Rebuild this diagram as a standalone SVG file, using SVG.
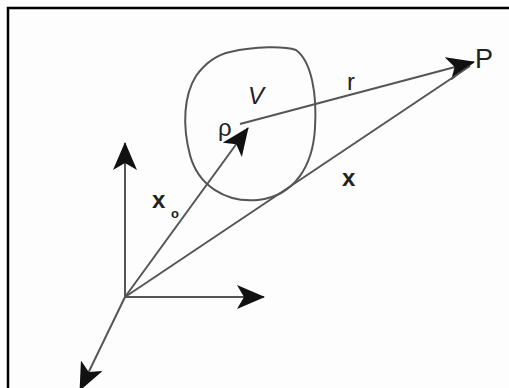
<svg xmlns="http://www.w3.org/2000/svg" width="509" height="388" viewBox="0 0 509 388">
<style>
.ln{stroke:#555;stroke-width:2;fill:none}
.lbl{font-family:"Liberation Sans",Arial,sans-serif;fill:#222}
</style>
<defs>
<marker id="ahL" markerWidth="28" markerHeight="24" refX="27" refY="12" orient="auto" markerUnits="userSpaceOnUse" viewBox="0 0 28 24">
<path d="M0,0 L28,12 L0,24 L7,12 Z" fill="#111"/>
</marker>
</defs>
<rect x="0" y="0" width="509" height="388" fill="#fdfdfd"/>
<rect x="8" y="8" width="520" height="400" fill="none" stroke="#000" stroke-width="2.5"/>
<g id="volume">
<path d="M230,52 C255,46 285,46 296,50 C312,62 317,95 315,128 C313,165 295,196 258,200 C225,203 198,185 190,155 C182,125 184,95 196,76 C206,62 216,55 230,52 Z" class="ln" stroke-width="1.8"/>
</g>
<g id="connectors">
<line id="axis-up" x1="125" y1="297" x2="125" y2="143" class="ln" marker-end="url(#ahL)"/>
<line id="axis-right" x1="125" y1="297" x2="264" y2="297" class="ln" marker-end="url(#ahL)"/>
<line id="axis-down" x1="125" y1="297" x2="80" y2="390" class="ln" marker-end="url(#ahL)"/>
<line id="x0" x1="125" y1="297" x2="248" y2="128" class="ln" marker-end="url(#ahL)"/>
<line id="r" x1="240" y1="124" x2="474" y2="62" class="ln" marker-end="url(#ahL)"/>
<line id="x" x1="125" y1="297" x2="470" y2="66" class="ln"/>
</g>
<g id="labels">
<text class="lbl" x="218" y="136" font-size="24">ρ</text>
<text class="lbl" x="248" y="104" font-size="24" font-style="italic">V</text>
<text class="lbl" x="347" y="90" font-size="24">r</text>
<text class="lbl" x="475" y="68" font-size="27">P</text>
<text class="lbl" x="342" y="186" font-size="24" font-weight="bold">x</text>
<text class="lbl" x="152" y="208" font-size="24" font-weight="bold">x</text>
<text class="lbl" x="171" y="218" font-size="13" font-weight="bold">o</text>
</g>
</svg>
